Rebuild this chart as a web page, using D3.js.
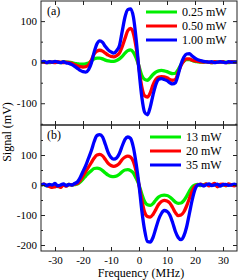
<!DOCTYPE html>
<html><head><meta charset="utf-8">
<script src="https://cdn.jsdelivr.net/npm/d3@7"></script>
<style>body{margin:0;background:#fff}svg{display:block}svg text{font-family:"Liberation Serif","Times New Roman",serif !important;fill:#000}</style>
</head><body><svg id="c" width="244" height="280"></svg>
<script>
// Frequency grid (MHz)
const freq = d3.range(-35, 36, 1);
// Panel (a) series (mV)
const a_025 = [0,1,0,-1,0,1,0,-1,1,0,0,-1,-3,-4,-5,-5,-4,-2,3,8,10,10,8,5,3,2,2,4,8,14,22,28,30,24,10,-10,-32,-42,-44,-38,-30,-24,-21,-20,-21,-23,-26,-28,-27,-18,-6,2,6,6,4,2,1,0,0,1,0,-1,0,0,1,0,0,-1,0,1,0];
const a_050 = [1,0,-1,1,0,-1,1,0,-1,0,-1,-3,-6,-9,-11,-12,-11,-7,5,20,27,29,27,22,17,14,13,16,22,38,58,77,82,70,35,-15,-60,-82,-85,-75,-55,-42,-36,-35,-36,-38,-42,-44,-42,-25,-8,3,8,8,5,3,2,1,0,1,0,-1,1,0,0,1,-1,0,1,0,0];
const a_100 = [0,2,-1,1,0,2,0,-1,1,-2,-3,-6,-10,-15,-20,-23,-24,-18,-2,25,45,52,48,38,30,25,22,28,40,75,110,128,130,110,55,-20,-85,-122,-128,-110,-80,-55,-42,-40,-42,-45,-50,-53,-50,-30,-5,12,20,21,15,10,6,4,2,1,0,1,-1,0,1,0,-1,1,0,0,1];
// Panel (b) series (mV)
const b_13 = [0,2,-3,1,-2,0,-5,-3,1,-2,2,0,1,3,10,20,30,40,48,55,56,54,48,40,33,29,28,30,36,44,50,51,48,40,22,0,-30,-55,-66,-68,-62,-50,-40,-35,-34,-35,-40,-48,-57,-61,-60,-52,-38,-20,-6,0,2,-2,1,3,-1,0,2,-3,1,0,-2,2,0,1,-1];
const b_20 = [0,3,-2,-5,-8,-6,-3,-8,0,-4,2,0,3,5,15,30,45,60,75,90,100,102,97,85,72,65,62,65,72,85,93,96,93,78,45,0,-50,-90,-105,-107,-98,-82,-65,-55,-51,-53,-60,-75,-92,-102,-100,-90,-70,-45,-20,-5,0,3,-2,4,-3,1,5,-6,2,3,-2,4,0,-3,2];
const b_35 = [0,3,-2,2,0,5,-3,0,4,-2,2,0,5,10,25,45,65,90,115,145,165,168,160,135,108,92,86,90,105,130,152,160,155,125,70,0,-85,-150,-188,-190,-175,-145,-115,-95,-85,-88,-100,-125,-155,-175,-182,-170,-140,-95,-50,-15,0,2,-3,1,4,-2,0,3,-4,1,2,-1,0,3,-2];
const legendA = ["0.25 mW","0.50 mW","1.00 mW"];
const legendB = ["13 mW","20 mW","35 mW"];
const colors = ["#00ee00","#ff0000","#0000ff"];
const xTicks = [-30,-20,-10,0,10,20,30];

const FONT = '"Liberation Serif","Times New Roman",serif';
const svg = d3.select("#c");
const L = 41, R = 237;
const x = d3.scaleLinear().domain([-35, 35]).range([L, R]);
const fmt = d => d < 0 ? "-" + Math.abs(d) : String(d);

function panel(top, bottom, ydom, series, names, label, yMajor, yMinor, legX, legY, showXLabels) {
  const y = d3.scaleLinear().domain(ydom).range([bottom, top]);
  const g = svg.append("g");
  const clipId = "clip" + top;
  svg.append("clipPath").attr("id", clipId).append("rect")
    .attr("x", L).attr("y", top).attr("width", R - L).attr("height", bottom - top);
  const line = d3.line().x((d, i) => x(freq[i])).y(d => y(d)).curve(d3.curveMonotoneX);
  const lines = g.append("g").attr("clip-path", `url(#${clipId})`);
  series.forEach((s, k) => {
    lines.append("path").datum(s).attr("d", line).attr("fill", "none")
      .attr("stroke", colors[k]).attr("stroke-width", 3.3).attr("stroke-linejoin", "round");
  });
  const axL = d3.axisLeft(y).tickValues(yMajor).tickSize(-4).tickPadding(4).tickFormat(fmt);
  g.append("g").attr("transform", `translate(${L},0)`).call(axL);
  g.append("g").attr("transform", `translate(${L},0)`).call(d3.axisLeft(y).tickValues(yMinor).tickSize(-2).tickFormat(""));
  g.append("g").attr("transform", `translate(${R},0)`).call(d3.axisRight(y).tickValues(yMajor).tickSize(-4).tickFormat(""));
  g.append("g").attr("transform", `translate(${R},0)`).call(d3.axisRight(y).tickValues(yMinor).tickSize(-2).tickFormat(""));
  g.append("g").attr("transform", `translate(0,${top})`).call(d3.axisTop(x).tickValues(xTicks).tickSize(-4).tickFormat(""));
  const axB = d3.axisBottom(x).tickValues(xTicks).tickSize(-4).tickPadding(5)
    .tickFormat(d => showXLabels ? fmt(d) : "");
  g.append("g").attr("transform", `translate(0,${bottom})`).call(axB);
  g.selectAll("g").attr("font-family", FONT);
  g.selectAll(".domain").attr("stroke", "none");
  g.selectAll(".tick line").attr("stroke", "#222");
  g.selectAll(".tick text").attr("font-family", FONT).attr("font-size", 11).attr("fill", "#000");
  g.append("rect").attr("x", L).attr("y", top).attr("width", R - L).attr("height", bottom - top)
    .attr("fill", "none").attr("stroke", "#222").attr("stroke-width", 1);
  g.append("text").attr("x", 47).attr("y", top + 14).attr("font-family", FONT).attr("font-size", 12).text(label);
  names.forEach((n, k) => {
    const yy = legY + k * 14;
    g.append("line").attr("x1", legX).attr("x2", legX + 31).attr("y1", yy).attr("y2", yy)
      .attr("stroke", colors[k]).attr("stroke-width", 3);
    g.append("text").attr("x", legX + 36).attr("y", yy + 4).attr("font-family", FONT).attr("font-size", 12).text(n);
  });
}

panel(1, 125, [-153, 149], [a_025, a_050, a_100], legendA, "(a)", [-100, 0, 100], [-150, -50, 50], 146, 12, false);
panel(125, 251, [-220, 200], [b_13, b_20, b_35], legendB, "(b)", [-200, -100, 0, 100], [-150, -50, 50, 150], 150, 137, true);

svg.append("text").attr("x", 141).attr("y", 277).attr("text-anchor", "middle").attr("font-family", FONT).attr("font-size", 12).text("Frequency (MHz)");
svg.append("text").attr("transform", "translate(11,132) rotate(-90)").attr("text-anchor", "middle").attr("font-family", FONT).attr("font-size", 12).text("Signal (mV)");
</script></body></html>
